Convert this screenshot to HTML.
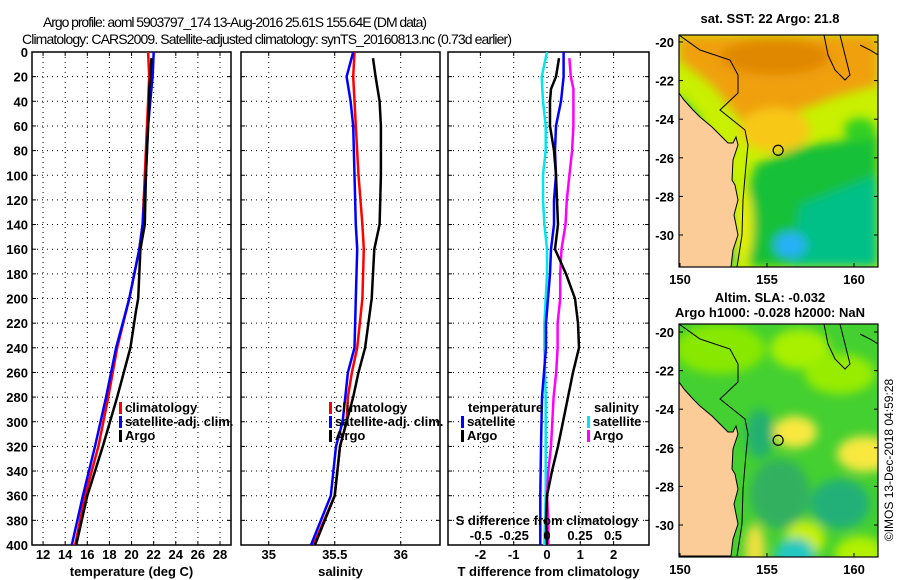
<!DOCTYPE html>
<html><head><meta charset="utf-8">
<style>
html,body{margin:0;padding:0;background:#fff;}
svg{display:block;font-family:"Liberation Sans",Arial,sans-serif;}
.tk{font-size:13px;font-weight:bold;fill:#000;}
.tt{font-size:14px;fill:#000;}
</style></head>
<body>
<svg id="fig" width="900" height="580" viewBox="0 0 900 580">
<defs>
<clipPath id="c1"><rect x="679" y="35" width="199" height="232"/></clipPath>
<clipPath id="c2"><rect x="679" y="324" width="199" height="233"/></clipPath>
<clipPath id="p1"><rect x="32" y="52" width="199" height="493"/></clipPath>
<clipPath id="p2"><rect x="241" y="52" width="199" height="493"/></clipPath>
<clipPath id="p3"><rect x="448" y="52" width="201" height="493"/></clipPath>
<filter id="bl" x="-20%" y="-20%" width="140%" height="140%"><feGaussianBlur stdDeviation="5"/></filter>
</defs>
<text class="tt" x="43" y="27" textLength="384">Argo profile: aoml 5903797_174 13-Aug-2016 25.61S 155.64E (DM data)</text>
<text class="tt" x="22" y="44" textLength="490">Climatology: CARS2009. Satellite-adjusted climatology: synTS_20160813.nc (0.73d earlier)</text>
<g id="panels"></g>
<g id="maps"></g>
<text x="893" y="460" font-size="12" transform="rotate(-90 893 460)" text-anchor="middle">©IMOS 13-Dec-2018 04:59:28</text>
</svg>
<script>
// ---- data ----
const depths = [0,20,40,60,100,140,160,200,240,280,320,360,400];
const tempClim = [21.5,21.6,21.5,21.4,21.2,21.0,20.7,19.8,18.7,17.9,17.0,15.8,14.9];
const tempSat  = [22.0,21.9,21.7,21.5,21.3,21.0,20.7,19.8,18.6,17.7,16.7,15.6,14.6];
const argoDepths = [5,20,30,40,60,100,140,160,200,210,240,280,320,360,400];
const tempArgo = [21.8,21.7,21.6,21.6,21.5,21.3,21.2,20.8,20.6,20.4,19.9,18.7,17.4,16.0,15.0];
const salDepths = [0,20,40,60,100,140,160,200,240,260,280,300,320,340,360,400];
const salClim = [35.65,35.64,35.65,35.66,35.68,35.71,35.72,35.71,35.67,35.63,35.60,35.59,35.54,35.52,35.50,35.34];
const salSat  = [35.64,35.59,35.62,35.64,35.65,35.66,35.67,35.66,35.65,35.60,35.58,35.56,35.51,35.49,35.47,35.32];
const salArgoD = [5,20,40,60,100,140,160,200,240,260,280,300,320,340,360,400];
const salArgo = [35.79,35.81,35.84,35.85,35.85,35.84,35.80,35.78,35.73,35.68,35.64,35.59,35.54,35.52,35.50,35.35];
const diffDepths = [0,20,40,60,80,100,120,140,160,180,200,220,240,280,320,360,400];
const dTsat = [0.5,0.5,0.42,0.27,0.24,0.27,0.21,0.21,0.12,0.09,0.03,-0.03,-0.03,-0.15,-0.18,-0.2,-0.2];
const dSsat = [0.0,-0.04,-0.03,-0.01,-0.01,-0.03,-0.03,-0.02,0.0,0.0,-0.01,-0.02,-0.02,-0.01,-0.01,-0.01,-0.02];
const dArgoD = [5,20,30,40,60,80,100,120,140,160,180,200,220,240,260,280,300,320,340,360,380,400];
const dTargo = [0.36,0.27,0.12,0.09,0.09,0.21,0.27,0.3,0.33,0.24,0.57,0.84,0.93,0.96,0.78,0.63,0.48,0.33,0.15,0.0,-0.03,0.0];
const dSargo = [0.17,0.18,0.2,0.2,0.2,0.19,0.17,0.15,0.14,0.11,0.1,0.1,0.08,0.08,0.07,0.05,0.04,0.03,0.01,0.0,0.01,0.01];
const tTicks = [12,14,16,18,20,22,24,26,28];
const sTicks = [35,35.5,36];
const dTTicks = [-2,-1,0,1,2];
const dSTicks = [-0.5,-0.25,0,0.25,0.5];
const depthTicks = [0,20,40,60,80,100,120,140,160,180,200,220,240,260,280,300,320,340,360,380,400];
const latTicks = [-20,-22,-24,-26,-28,-30];
const lonTicks = [150,155,160];

const NS='http://www.w3.org/2000/svg';
function el(tag,attrs,parent){const e=document.createElementNS(NS,tag);for(const k in attrs)e.setAttribute(k,attrs[k]);parent.appendChild(e);return e;}
const yD = d => 52 + d*1.2325;
const xT = v => 32 + (v-11)*11.06;
const xS = v => 241 + (v-34.79)*132;
const xDT = v => 547 + v*33.3;
const xDS = v => 547 + v*132;
const P = document.getElementById('panels');

function panel(x0,w,name,ticks,xf,labelFn,title){
  const g=el('g',{},P);
  
  
  ticks.forEach(t=>{el('line',{x1:xf(t),x2:xf(t),y1:52,y2:545,stroke:'#000','stroke-width':1,'stroke-dasharray':'1 4'},g);});
  depthTicks.forEach(d=>{if(d>0&&d<400)el('line',{x1:x0,x2:x0+w,y1:yD(d),y2:yD(d),stroke:'#000','stroke-width':1,'stroke-dasharray':'1 4'},g);
    el('line',{x1:x0,x2:x0+4,y1:yD(d),y2:yD(d),stroke:'#000'},g);el('line',{x1:x0+w-4,x2:x0+w,y1:yD(d),y2:yD(d),stroke:'#000'},g);});
  ticks.forEach(t=>{el('line',{x1:xf(t),x2:xf(t),y1:541,y2:545,stroke:'#000'},g);el('line',{x1:xf(t),x2:xf(t),y1:52,y2:56,stroke:'#000'},g);});
  el('rect',{x:x0,y:52,width:w,height:493,fill:'none',stroke:'#000','stroke-width':1.5},g);
  if(labelFn){ticks.forEach(t=>{const tx=el('text',{x:xf(t),y:559,'text-anchor':'middle',class:'tk'},g);tx.textContent=labelFn(t);});}
  const tl=el('text',{x:x0+w/2,y:576,'text-anchor':'middle',class:'tk'},g);tl.textContent=title;
  return g;
}
function line(g,ds,vs,xf,color,clip,name){
  const pts=ds.map((d,i)=>xf(vs[i]).toFixed(1)+','+yD(d).toFixed(1)).join(' ');
  const p=el('polyline',{points:pts,fill:'none',stroke:color,'stroke-width':2.5,'clip-path':'url(#'+clip+')'},g);
  
  
}
function legend(g,x,y,color,label,name){
  el('rect',{x:x,y:y-10,width:3,height:12,fill:color},g);
  const t=el('text',{x:x+6,y:y,class:'tk'},g);t.textContent=label;
  
  
}
const g1=panel(32,199,'temperature-panel',tTicks,xT,t=>String(t),'temperature (deg C)');
depthTicks.forEach(d=>{const t=el('text',{x:28,y:yD(d)+5,'text-anchor':'end',class:'tk'},g1);t.textContent=d;});
line(g1,depths,tempClim,xT,'#ff0000','p1','temp-climatology-line');
line(g1,depths,tempSat,xT,'#0000ff','p1','temp-satellite-line');
line(g1,argoDepths,tempArgo,xT,'#000000','p1','temp-argo-line');
legend(g1,119,412,'#ff0000','climatology','legend-climatology');
legend(g1,119,426,'#0000ff','satellite-adj. clim.','legend-satellite-adj');
legend(g1,119,440,'#000000','Argo','legend-argo');
const g2=panel(241,199,'salinity-panel',sTicks,xS,t=>String(t),'salinity');
line(g2,salDepths,salClim,xS,'#ff0000','p2','sal-climatology-line');
line(g2,salDepths,salSat,xS,'#0000ff','p2','sal-satellite-line');
line(g2,salArgoD,salArgo,xS,'#000000','p2','sal-argo-line');
legend(g2,329,412,'#ff0000','climatology','legend-climatology-2');
legend(g2,329,426,'#0000ff','satellite-adj. clim.','legend-satellite-adj-2');
legend(g2,329,440,'#000000','Argo','legend-argo-2');
const g3=panel(448,201,'difference-panel',dTTicks,xDT,t=>String(t),'T difference from climatology');
line(g3,diffDepths,dSsat,xDS,'#00e5ee','p3','dS-satellite-line');
line(g3,diffDepths,dTsat,xDT,'#0000ff','p3','dT-satellite-line');
line(g3,dArgoD,dSargo,xDS,'#ff00ff','p3','dS-argo-line');
line(g3,dArgoD,dTargo,xDT,'#000000','p3','dT-argo-line');
const th=el('text',{x:468,y:412,class:'tk'},g3);th.textContent='temperature';
legend(g3,461,426,'#0000ff','satellite','legend-t-satellite');
legend(g3,461,440,'#000000','Argo','legend-t-argo');
const sh=el('text',{x:594,y:412,class:'tk'},g3);sh.textContent='salinity';
legend(g3,587,426,'#00e5ee','satellite','legend-s-satellite');
legend(g3,587,440,'#ff00ff','Argo','legend-s-argo');
const sdt=el('text',{x:547,y:525,'text-anchor':'middle',class:'tk'},g3);sdt.textContent='S difference from climatology';


dSTicks.forEach(t=>{const tx=el('text',{x:xDS(t),y:540,'text-anchor':'middle',class:'tk'},g3);tx.textContent=String(t);});

const M=document.getElementById('maps');
const lonX = v => 680 + (v-150)*17.4;
function map(y0,h,latTop,clip,name,blobs,base,title1,title2){
  const g=el('g',{},M);
  
  
  const latY = v => latTop + (-20 - v)*19.3;
  const cg=el('g',{'clip-path':'url(#'+clip+')'},g);
  el('rect',{x:679,y:y0,width:199,height:h,fill:base},cg);
  const bg=el('g',{filter:'url(#bl)'},cg);
  blobs.forEach(b=>{
    if(b.poly) el('polygon',{points:b.poly.map(p=>p[0]+','+(p[1]+y0)).join(' '),fill:b.c},bg);
    else el('ellipse',{cx:b.x,cy:b.y+y0,rx:b.rx,ry:b.ry,fill:b.c},bg);
  });
  const land=[[679,58],[684,65],[693,75],[700,82],[712,92],[720,100],[728,108],[733,108],[736,102],[738,110],[733,125],[732,145],[735,150],[738,165],[734,180],[738,200],[733,215],[731,232],[679,232]];
  el('polygon',{points:land.map(p=>p[0]+','+(p[1]+y0)).join(' '),fill:'#fccc98',stroke:'#000','stroke-width':1},cg);
  el('polyline',{points:[[679,0],[700,15],[730,25],[738,40],[738,58],[720,75],[745,95],[748,110],[746,130],[743,165],[742,200],[737,232]].map(p=>p[0]+','+(p[1]+y0)).join(' '),fill:'none',stroke:'#000','stroke-width':1},cg);
  el('polyline',{points:[[824,0],[828,20],[835,35],[845,45],[850,40],[845,20],[840,0]].map(p=>p[0]+','+(p[1]+y0)).join(' '),fill:'none',stroke:'#000','stroke-width':1},cg);
  el('polyline',{points:[[860,10],[870,15],[878,20]].map(p=>p[0]+','+(p[1]+y0)).join(' '),fill:'none',stroke:'#000','stroke-width':1},cg);
  el('circle',{cx:lonX(155.64),cy:latY(-25.61),r:5,fill:'none',stroke:'#000','stroke-width':1.2},cg);
  el('rect',{x:679,y:y0,width:199,height:h,fill:'none',stroke:'#000','stroke-width':1.2},g);
  latTicks.forEach(v=>{const y=latY(v);el('line',{x1:679,x2:683,y1:y,y2:y,stroke:'#000'},g);el('line',{x1:874,x2:878,y1:y,y2:y,stroke:'#000'},g);
    const t=el('text',{x:674,y:y+5,'text-anchor':'end',class:'tk'},g);t.textContent=v;});
  lonTicks.forEach(v=>{const x=lonX(v);el('line',{x1:x,x2:x,y1:y0+h-4,y2:y0+h,stroke:'#000'},g);
    const t=el('text',{x:x,y:y0+h+17,'text-anchor':'middle',class:'tk'},g);t.textContent=v;});
  const t1=el('text',{x:770,y:title2?y0-22:y0-12,'text-anchor':'middle',class:'tk'},g);t1.textContent=title1;
  if(title2){const t2=el('text',{x:770,y:y0-7,'text-anchor':'middle',class:'tk'},g);t2.textContent=title2;}
}
map(35,232,42,'c1','sst-map',[
  {poly:[[679,0],[878,0],[878,50],[840,60],[800,75],[770,95],[745,90],[712,50],[679,25]],c:'#f0a010'},
  {x:775,y:22,rx:55,ry:18,c:'#e08800'},
  {x:775,y:95,rx:35,ry:22,c:'#f8c818'},
  {poly:[[679,60],[700,85],[730,150],[735,232],[679,232]],c:'#10c060'},
  {poly:[[755,130],[800,112],[878,100],[878,232],[750,232],[745,170]],c:'#18c038'},
  {poly:[[800,170],[878,140],[878,232],[790,232]],c:'#00c088'},
  {x:790,y:210,rx:16,ry:13,c:'#28b0f8'},
  {x:860,y:95,rx:16,ry:12,c:'#30d020'},
  {x:745,y:190,rx:8,ry:35,c:'#e8f000'}
],'#c8f000','sat. SST: 22 Argo: 21.8',null);
map(324,233,332,'c2','sla-map',[
  {x:720,y:25,rx:45,ry:25,c:'#88e800'},
  {x:800,y:25,rx:30,ry:20,c:'#a8f000'},
  {x:795,y:108,rx:22,ry:16,c:'#f8e840'},
  {x:865,y:130,rx:28,ry:18,c:'#f8e840'},
  {x:840,y:50,rx:35,ry:20,c:'#98ec00'},
  {x:760,y:110,rx:14,ry:25,c:'#20b070'},
  {x:780,y:170,rx:30,ry:35,c:'#30b060'},
  {x:840,y:180,rx:30,ry:25,c:'#20b078'},
  {x:805,y:215,rx:20,ry:18,c:'#c8f000'},
  {x:755,y:225,rx:10,ry:25,c:'#f0e040'},
  {x:795,y:232,rx:20,ry:18,c:'#20c8c0'},
  {x:860,y:230,rx:25,ry:18,c:'#b0f000'}
],'#44d030','Altim. SLA: -0.032','Argo h1000: -0.028 h2000: NaN');
</script>
</body></html>
